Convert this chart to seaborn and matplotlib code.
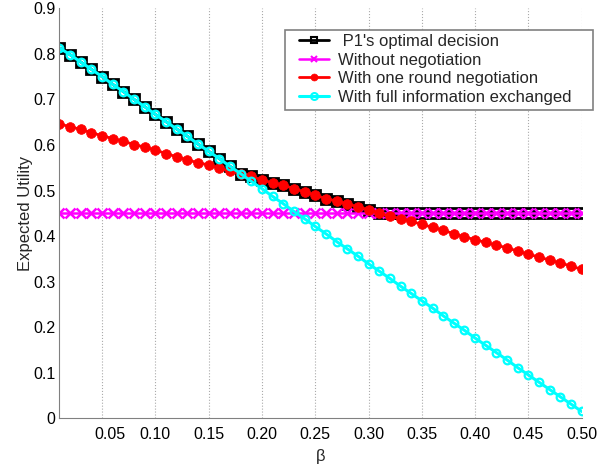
import numpy as np
import pandas as pd
import matplotlib
matplotlib.use("Agg")
import matplotlib.pyplot as plt
import matplotlib.transforms as mtransforms
from matplotlib.patches import Rectangle
from matplotlib.lines import Line2D
import seaborn as sns

# beta values (x axis)
beta = [round(0.01 * i, 2) for i in range(1, 51)]

# with full information exchanged (cyan)
full_info = [0.813, 0.798, 0.782, 0.766, 0.750, 0.733, 0.717, 0.700, 0.684, 0.667,
             0.651, 0.635, 0.619, 0.602, 0.586, 0.570, 0.553, 0.537, 0.520, 0.504,
             0.487, 0.471, 0.454, 0.438, 0.421, 0.405, 0.388, 0.372, 0.356, 0.339,
             0.323, 0.307, 0.290, 0.274, 0.258, 0.242, 0.225, 0.209, 0.193, 0.176,
             0.160, 0.144, 0.128, 0.111, 0.095, 0.079, 0.063, 0.047, 0.031, 0.015]

# with one round negotiation (red)
one_round = [0.646, 0.640, 0.634, 0.627, 0.620, 0.614, 0.608, 0.601, 0.595, 0.589,
             0.581, 0.574, 0.567, 0.561, 0.556, 0.549, 0.543, 0.537, 0.531, 0.523,
             0.517, 0.512, 0.504, 0.497, 0.490, 0.482, 0.477, 0.471, 0.464, 0.458,
             0.450, 0.444, 0.438, 0.432, 0.426, 0.419, 0.413, 0.405, 0.398, 0.392,
             0.386, 0.380, 0.374, 0.367, 0.360, 0.354, 0.347, 0.341, 0.334, 0.327]

# without negotiation (magenta)
no_negotiation = [0.45] * 50

# P1's optimal decision (black)
optimal = [0.813, 0.798, 0.782, 0.766, 0.750, 0.733, 0.717, 0.700, 0.684, 0.667,
           0.651, 0.635, 0.619, 0.602, 0.586, 0.570, 0.553, 0.537, 0.531, 0.523,
           0.517, 0.512, 0.504, 0.497, 0.490, 0.482, 0.477, 0.471, 0.464, 0.458,
           0.450, 0.450, 0.450, 0.450, 0.450, 0.450, 0.450, 0.450, 0.450, 0.450,
           0.450, 0.450, 0.450, 0.450, 0.450, 0.450, 0.450, 0.450, 0.450, 0.450]

xtick_vals = [0.05, 0.10, 0.15, 0.20, 0.25, 0.30, 0.35, 0.40, 0.45, 0.50]
xtick_labels = ["0.05", "0.10", "0.15", "0.20", "0.25", "0.30", "0.35", "0.40", "0.45", "0.50"]
ytick_vals = [0, 0.1, 0.2, 0.3, 0.4, 0.5, 0.6, 0.7, 0.8, 0.9]
ytick_labels = ["0", "0.1", "0.2", "0.3", "0.4", "0.5", "0.6", "0.7", "0.8", "0.9"]

sns.set_style("white")
plt.rcParams['font.family'] = ['Liberation Sans', 'DejaVu Sans']
plt.rcParams['font.size'] = 11.5

fig = plt.figure(figsize=(6.13, 4.66), dpi=100)
ax = fig.add_axes([0.097, 0.1024, 0.852, 0.8798])

# (values, label, color, linewidth, marker, markersize, facecolor, edgewidth)
series = [
    (optimal, " P1's optimal decision", "black", 2.0, "s", 7.5, "none", 2.0),
    (no_negotiation, "Without negotiation", "#ff00ff", 1.8, "x", 7.5, "#ff00ff", 1.8),
    (one_round, "With one round negotiation", "red", 2.0, "o", 7, "red", 0.5),
    (full_info, "With full information exchanged", "cyan", 2.2, "o", 5.5, "none", 1.6),
]

legend_handles = []
for vals, lab, col, lw, mk, ms, mfc, mew in series:
    sns.lineplot(x=beta, y=vals, ax=ax, color=col, legend=False)
    line = ax.lines[-1]
    line.set_linestyle("-")
    line.set_linewidth(lw)
    line.set_marker(mk)
    line.set_markersize(ms)
    line.set_markerfacecolor(mfc)
    line.set_markeredgecolor(col)
    line.set_markeredgewidth(mew)
    legend_handles.append(Line2D([], [], color=col, linewidth=lw, marker=mk,
                                 markersize=min(ms, 5), markerfacecolor=mfc,
                                 markeredgecolor=col, markeredgewidth=min(mew, 1.5),
                                 label=lab))

ax.set_xlim(0.01, 0.5)
ax.set_ylim(0, 0.9)
ax.set_xticks(xtick_vals)
ax.set_xticklabels(xtick_labels)
ax.set_yticks(ytick_vals)
ax.set_yticklabels(ytick_labels)
ax.tick_params(direction="in", length=5, width=0.8, color="#808080", labelsize=11.5,
               labelcolor="black")
ax.tick_params(axis="x", pad=6)
ax.tick_params(axis="y", pad=3)
# first x label sits a bit right of its tick in the original
lbl = ax.get_xticklabels()[0]
lbl.set_transform(lbl.get_transform() + mtransforms.ScaledTranslation(8 / 100, 0, fig.dpi_scale_trans))

ax.xaxis.grid(True, linestyle=":", color="#aaaaaa", linewidth=0.8)
ax.yaxis.grid(False)
for side in ["top", "right"]:
    ax.spines[side].set_visible(False)
for side in ["left", "bottom"]:
    ax.spines[side].set_color("#808080")
    ax.spines[side].set_linewidth(0.8)

ax.set_xlabel("β", fontsize=12, labelpad=5)
ax.set_ylabel("Expected Utility", fontsize=12, labelpad=0)

# legend frame drawn by hand to match the padding of the original
frame = Rectangle((285 / 613, 1 - 110 / 466), 308 / 613, 80 / 466, transform=fig.transFigure,
                  facecolor="white", edgecolor="#808080", linewidth=1.2, clip_on=False, zorder=4)
ax.add_patch(frame)

leg = ax.legend(handles=legend_handles, loc="upper left", bbox_to_anchor=(299 / 613, 1 - 34 / 466),
                bbox_transform=fig.transFigure, borderaxespad=0, frameon=False,
                fontsize=12, handlelength=1.8, handletextpad=0.55,
                labelspacing=0.22, borderpad=0)
leg.set_zorder(5)

fig.savefig("out.png", dpi=100)
